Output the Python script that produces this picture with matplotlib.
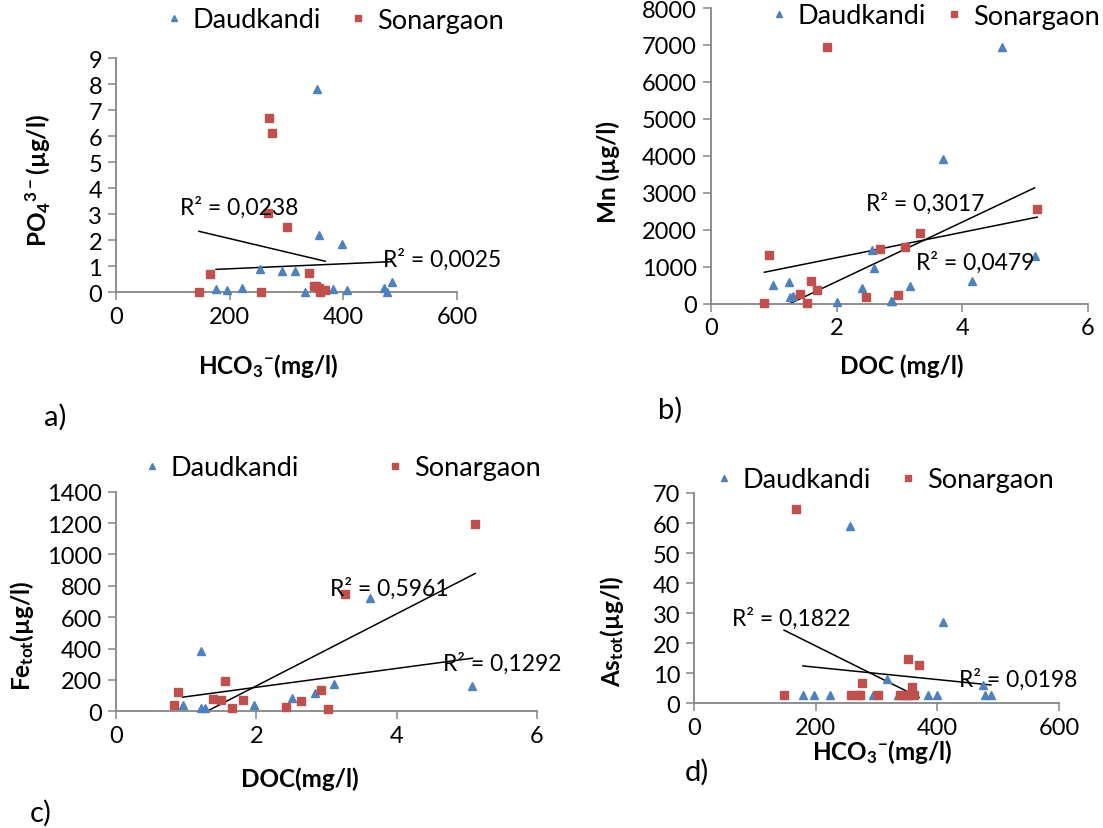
import numpy as np
import matplotlib
matplotlib.use("Agg")
import matplotlib.pyplot as plt
from matplotlib.lines import Line2D

plt.rcParams['font.family'] = ['Lato', 'DejaVu Sans']
plt.rcParams['mathtext.default'] = 'regular'

BLUE = '#4F81BD'
RED = '#C0504D'
GREY = '#868686'

# a) PO4 vs HCO3
a_dk_x = [353, 358, 397, 254, 292, 315, 176, 196, 221, 333, 381, 407, 472, 477, 486]
a_dk_y = [7.8, 2.2, 1.85, 0.9, 0.8, 0.8, 0.1, 0.08, 0.15, 0.0, 0.13, 0.08, 0.15, 0.0, 0.39]
a_sg_x = [270, 274, 268, 301, 165, 339, 146, 256, 348, 352, 357, 359, 368]
a_sg_y = [6.7, 6.13, 3.03, 2.5, 0.69, 0.73, 0.0, 0.0, 0.24, 0.22, 0.14, 0.0, 0.09]

# b) Mn vs DOC
b_dk_x = [4.63, 3.69, 2.56, 2.60, 0.98, 1.24, 1.25, 1.31, 2.00, 2.41, 2.87, 2.88, 3.16, 4.16, 5.15]
b_dk_y = [6950, 3920, 1440, 950, 500, 590, 180, 210, 45, 410, 60, 65, 480, 610, 1280]
b_sg_x = [1.85, 5.19, 3.32, 3.08, 2.69, 0.92, 1.59, 1.42, 1.69, 0.85, 1.52, 2.47, 2.97]
b_sg_y = [6950, 2550, 1900, 1520, 1480, 1300, 610, 250, 370, 10, 20, 180, 220]

# c) Fe vs DOC
c_dk_x = [3.62, 5.08, 1.21, 3.11, 2.84, 2.51, 1.97, 0.95, 1.21, 1.27]
c_dk_y = [720, 160, 385, 172, 117, 83, 40, 40, 19, 23]
c_sg_x = [5.12, 3.27, 1.55, 0.89, 0.82, 1.38, 1.49, 1.66, 1.81, 2.42, 2.64, 2.92, 3.02]
c_sg_y = [1195, 745, 195, 123, 42, 76, 72, 21, 74, 30, 68, 136, 15]

# d) As vs HCO3
d_dk_x = [257, 409, 317, 475, 179, 198, 223, 294, 336, 350, 384, 399, 479, 488]
d_dk_y = [59.1, 27.1, 8.1, 6.0, 2.7, 2.7, 2.7, 2.7, 2.7, 2.7, 2.7, 2.7, 2.7, 2.7]
d_sg_x = [167, 352, 370, 276, 359, 148, 258, 269, 273, 303, 339, 346, 354, 362]
d_sg_y = [64.7, 14.8, 12.9, 6.7, 5.5, 2.7, 2.7, 2.7, 2.7, 2.7, 2.7, 2.7, 2.7, 2.7]

W, H = 1103, 829
fig = plt.figure(figsize=(W / 100, H / 100), dpi=100)

TICK = 17
LAB = 17.5
RTXT = 16.5


def px_ax(l, r, t, b):
    return fig.add_axes([l / W, 1 - b / H, (r - l) / W, (b - t) / H])


def style(ax, xlim, ylim, xt, yt):
    ax.set_xlim(*xlim)
    ax.set_ylim(*ylim)
    ax.set_xticks(xt)
    ax.set_yticks(yt)
    for s in ['top', 'right']:
        ax.spines[s].set_visible(False)
    for s in ['left', 'bottom']:
        ax.spines[s].set_color(GREY)
        ax.spines[s].set_linewidth(1.3)
    ax.tick_params(direction='out', length=6, width=1.1, color=GREY,
                   labelsize=TICK, pad=4)


def scatter(ax, dx, dy, sx, sy):
    ax.plot(dx, dy, '^', color=BLUE, ms=6, ls='none', clip_on=False, zorder=3)
    ax.plot(sx, sy, 's', color=RED, ms=5.5, ls='none', clip_on=False, zorder=3)
    for x, y in ((dx, dy), (sx, sy)):
        k, c = np.polyfit(x, y, 1)
        xs = np.array([min(x), max(x)])
        ax.plot(xs, k * xs + c, color='black', lw=1.1, zorder=2)


def legend(ax, x, cy, spacing, loc='center left'):
    h = [Line2D([], [], marker='^', color=BLUE, ls='none', ms=5),
         Line2D([], [], marker='s', color=RED, ls='none', ms=4.5)]
    ax.legend(h, ['Daudkandi', 'Sonargaon'], loc=loc, ncol=2,
              bbox_to_anchor=(x / W, 1 - cy / H), bbox_transform=fig.transFigure,
              frameon=False, fontsize=19.5, handlelength=0.5, handletextpad=0.45,
              columnspacing=spacing, borderpad=0, borderaxespad=0)


def ftext(x, y, s, **kw):
    fig.text(x / W, 1 - y / H, s, ha='center', va='center', **kw)


# a)
ax = px_ax(116, 457, 59, 293)
scatter(ax, a_dk_x, a_dk_y, a_sg_x, a_sg_y)
style(ax, (0, 600), (0, 9), [0, 200, 400, 600], range(10))
ax.text(112, 3.29, 'R² = 0,0238', fontsize=RTXT, va='center')
ax.text(470, 1.26, 'R² = 0,0025', fontsize=RTXT, va='center', clip_on=False)
legend(ax, 167, 21, 1.1)
ftext(268, 366, 'HCO$_3$$^{-}$(mg/l)', fontsize=LAB, fontweight='bold')
ftext(38, 180, 'PO$_4$$^{3-}$(µg/l)', fontsize=LAB, fontweight='bold', rotation=90)
ftext(55, 417, 'a)', fontsize=21)

# b)
ax = px_ax(711, 1088, 9, 304.5)
scatter(ax, b_dk_x, b_dk_y, b_sg_x, b_sg_y)
style(ax, (0, 6), (0, 8000), [0, 2, 4, 6], range(0, 8001, 1000))
ax.text(2.47, 2726, 'R² = 0,3017', fontsize=RTXT, va='center')
ax.text(3.27, 1141, 'R² = 0,0479', fontsize=RTXT, va='center')
legend(ax, 1100, 17, 0.8, loc='center right')
ftext(902, 366, 'DOC (mg/l)', fontsize=LAB, fontweight='bold')
ftext(608, 172, 'Mn (µg/l)', fontsize=LAB, fontweight='bold', rotation=90)
ftext(670, 410, 'b)', fontsize=21)

# c)
ax = px_ax(116, 537, 492.7, 712.3)
scatter(ax, c_dk_x, c_dk_y, c_sg_x, c_sg_y)
style(ax, (0, 6), (0, 1400), [0, 2, 4, 6], range(0, 1401, 200))
ax.text(3.05, 790, 'R² = 0,5961', fontsize=RTXT, va='center')
ax.text(4.66, 312, 'R² = 0,1292', fontsize=RTXT, va='center', clip_on=False)
legend(ax, 145, 469, 3.3)
ftext(300, 779, 'DOC(mg/l)', fontsize=LAB, fontweight='bold')
ftext(22, 636, 'Fe$_{tot}$(µg/l)', fontsize=LAB, fontweight='bold', rotation=90)
ftext(41, 813, 'c)', fontsize=21)

# d)
ax = px_ax(694, 1059, 494, 704.3)
scatter(ax, d_dk_x, d_dk_y, d_sg_x, d_sg_y)
style(ax, (0, 600), (0, 70), [0, 200, 400, 600], range(0, 71, 10))
ax.text(63, 28.6, 'R² = 0,1822', fontsize=RTXT, va='center')
ax.text(436, 8.1, 'R² = 0,0198', fontsize=RTXT, va='center')
legend(ax, 717, 481, 1.1)
ftext(882, 752, 'HCO$_3$$^{-}$(mg/l)', fontsize=LAB, fontweight='bold')
ftext(612, 631, 'As$_{tot}$(µg/l)', fontsize=LAB, fontweight='bold', rotation=90)
ftext(697, 772, 'd)', fontsize=21)

fig.savefig('out.png', dpi=100)
